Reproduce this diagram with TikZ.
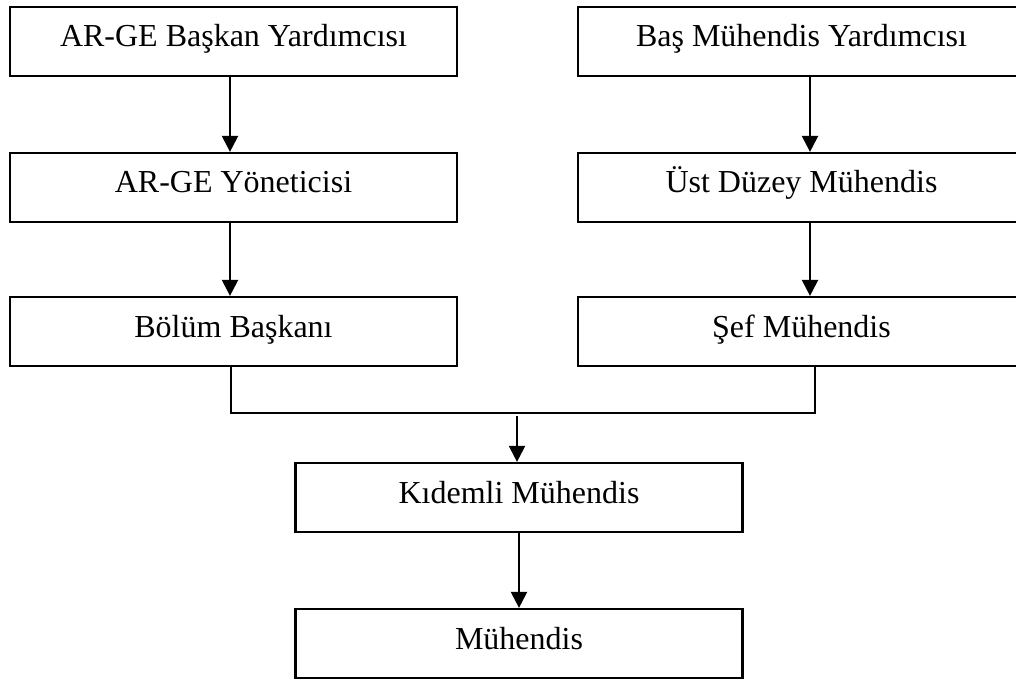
\documentclass[tikz,border=0pt]{standalone}
\usepackage{fontspec}
\setmainfont{Liberation Serif}
\usetikzlibrary{arrows.meta}
\begin{document}
\begin{tikzpicture}[x=1pt,y=-1pt,
  post/.style={draw=black,line width=2.2pt,fill=white,inner sep=0pt,
    minimum width=447pt,minimum height=69pt,
    text height=22pt,text depth=11pt,
    font=\fontsize{32}{36}\selectfont},
  link/.style={line width=2.2pt},
  arr/.style={line width=2.2pt,-{Triangle[length=16pt,width=16pt]}}]
\useasboundingbox (0,0) rectangle (1016,679);
% left column
\node[post] (a1) at (233.5,41.5) {AR-GE Başkan Yardımcısı};
\node[post] (a2) at (233.5,187.5) {AR-GE Yöneticisi};
\node[post] (a3) at (233.5,331.5) {Bölüm Başkanı};
% right column
\node[post] (b1) at (801.5,41.5) {Baş Mühendis Yardımcısı};
\node[post] (b2) at (801.5,187.5) {Üst Düzey Mühendis};
\node[post] (b3) at (801.5,331.5) {Şef Mühendis};
% common lower chain
\node[post] (c1) at (519,497.5) {Kıdemli Mühendis};
\node[post] (c2) at (519,643.5) {Mühendis};
% arrows inside the columns
\draw[arr] ([xshift=-3.5pt]a1.south) -- ([xshift=-3.5pt]a2.north);
\draw[arr] ([xshift=-3.5pt]a2.south) -- ([xshift=-3.5pt]a3.north);
\draw[arr] ([xshift=8.5pt]b1.south) -- ([xshift=8.5pt]b2.north);
\draw[arr] ([xshift=8.5pt]b2.south) -- ([xshift=8.5pt]b3.north);
% joining line under both columns
\draw[link] ([xshift=-2.5pt]a3.south) -- ++(0,46) -| ([xshift=13.5pt]b3.south);
\coordinate (j) at (517,416);
\draw[arr] (j) -- (j |- c1.north);
\draw[arr] (c1.south) -- (c2.north);
\end{tikzpicture}
\end{document}
